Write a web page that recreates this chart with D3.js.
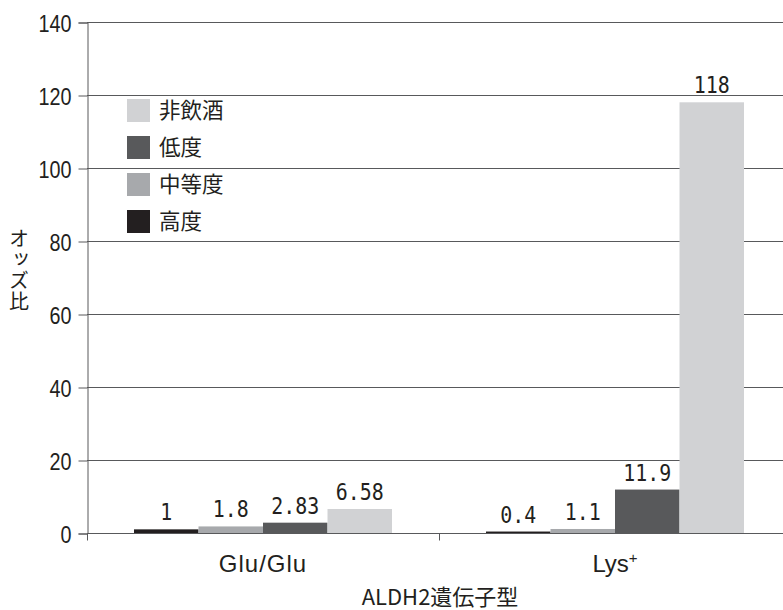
<!DOCTYPE html>
<head>
<meta charset="utf-8">
<style>
body { margin: 0; background: white; }
svg { display: block; }
.tick text { font-family: "Liberation Sans", Arial, sans-serif; fill: #231f20; }
.grid line { stroke: #58595b; stroke-width: 1px; }
.vlabel { font-family: "DejaVu Sans Mono", monospace; font-size: 23px; fill: #231f20; }
.cjk { font-family: "Noto Sans CJK JP", sans-serif; fill: #231f20; }
</style>
</head>
<body>
<svg width="783" height="610"></svg>
<script src="https://cdnjs.cloudflare.com/ajax/libs/d3/7.8.5/d3.min.js"></script>
<script>

// data
var genotypes = ["Glu/Glu", "Lys+"];
var levels = ["高度", "中等度", "低度", "非飲酒"];   // bar order in each group
var legendOrder = ["非飲酒", "低度", "中等度", "高度"];
var gluValues = [1, 1.8, 2.83, 6.58];
var lysValues = [0.4, 1.1, 11.9, 118];
var valueLabels = [["1", "1.8", "2.83", "6.58"], ["0.4", "1.1", "11.9", "118"]];
var yTicks = [0, 20, 40, 60, 80, 100, 120, 140];

var colors = {"高度": "#231f20", "中等度": "#a7a9ac", "低度": "#58595b", "非飲酒": "#d1d2d4"};

var svg = d3.select("svg");
var plotL = 87, plotR = 791, plotT = 22, plotB = 533;

var y = d3.scaleLinear().domain([0, 140]).range([plotB, plotT]);
var x0 = d3.scaleBand().domain(genotypes).range([plotL, plotR])
  .paddingInner(0.267).paddingOuter(0.1335);
var x1 = d3.scaleBand().domain(levels).range([0, x0.bandwidth()]);

var rows = genotypes.map(function(g, i) {
  var vals = i == 0 ? gluValues : lysValues;
  return levels.map(function(l, j) {
    return {g: g, level: l, value: vals[j], label: valueLabels[i][j]};
  });
});

// gridlines
svg.append("g").attr("class", "grid")
  .selectAll("line").data(yTicks.filter(d => d > 0)).enter().append("line")
  .attr("x1", plotL).attr("x2", plotR)
  .attr("y1", d => Math.round(y(d)) + 0.5).attr("y2", d => Math.round(y(d)) + 0.5);

// bars
var grp = svg.selectAll(".grp").data(rows).enter().append("g")
  .attr("transform", (d, i) => "translate(" + x0(genotypes[i]) + ",0)");

grp.selectAll("rect").data(d => d).enter().append("rect")
  .attr("x", d => x1(d.level))
  .attr("width", x1.bandwidth())
  .attr("y", d => y(d.value))
  .attr("height", d => y(0) - y(d.value))
  .attr("fill", d => colors[d.level]);

// condensed look: squeeze the mono digits a little
grp.selectAll(".vlabel").data(d => d).enter().append("text")
  .attr("class", "vlabel")
  .attr("x", d => x1(d.level) + x1.bandwidth() / 2)
  .attr("y", d => y(d.value) - 9)
  .attr("text-anchor", "middle")
  .attr("textLength", d => d.label.length * 12)
  .attr("lengthAdjust", "spacingAndGlyphs")
  .text(d => d.label);

// y axis
var yAxis = svg.append("g")
  .attr("transform", "translate(" + (plotL + 0.5) + ",0.5)")
  .call(d3.axisLeft(y).tickValues(yTicks).tickSize(9).tickPadding(7));
yAxis.selectAll("text")
  .style("font-size", "24px")
  .attr("dy", "0.36em")
  .attr("textLength", d => String(d).length * 11)
  .attr("lengthAdjust", "spacingAndGlyphs");
yAxis.selectAll("line, path").attr("stroke", "#58595b");

// x axis
var xAxis = svg.append("g")
  .attr("transform", "translate(0," + (Math.round(plotB) + 0.5) + ")")
  .call(d3.axisBottom(d3.scaleLinear().domain([0, 2]).range([plotL, plotR]))
    .tickValues([0, 1, 2]).tickSize(7).tickFormat(""));
xAxis.selectAll("line, path").attr("stroke", "#58595b");
xAxis.select("path").attr("d", "M" + plotL + ",0H" + plotR);

svg.append("g").selectAll("text").data(genotypes).enter().append("text")
  .attr("x", d => x0(d) + x0.bandwidth() / 2)
  .attr("y", 572)
  .attr("text-anchor", "middle")
  .style("font-family", "'Liberation Sans', Arial, sans-serif")
  .style("font-size", "24px")
  .style("fill", "#231f20")
  .each(function(d) {
    var t = d3.select(this);
    if (d == "Lys+") {
      t.append("tspan").text("Lys");
      t.append("tspan").attr("dy", -9).style("font-size", "15px").text("+");
    } else {
      t.style("letter-spacing", "1px").text(d);
    }
  });

// axis titles
svg.append("text").attr("class", "cjk")
  .attr("x", 440).attr("y", 605)
  .attr("text-anchor", "middle")
  .style("font-size", "22px")
  .text("ALDH2遺伝子型");

svg.append("text").attr("class", "cjk")
  .attr("x", 19).attr("y", 270)
  .attr("text-anchor", "middle")
  .style("writing-mode", "vertical-rl")
  .style("font-size", "20px")
  .style("letter-spacing", "1px")
  .text("オッズ比");

// legend
var legend = svg.append("g").selectAll("g").data(legendOrder).enter().append("g")
  .attr("transform", (d, i) => "translate(127," + (99 + i * 37) + ")");
legend.append("rect").attr("width", 23).attr("height", 23)
  .attr("fill", d => colors[d]);
legend.append("text").attr("class", "cjk")
  .attr("x", 32).attr("y", 19)
  .style("font-size", "21.5px")
  .text(d => d);

</script>
</body>
